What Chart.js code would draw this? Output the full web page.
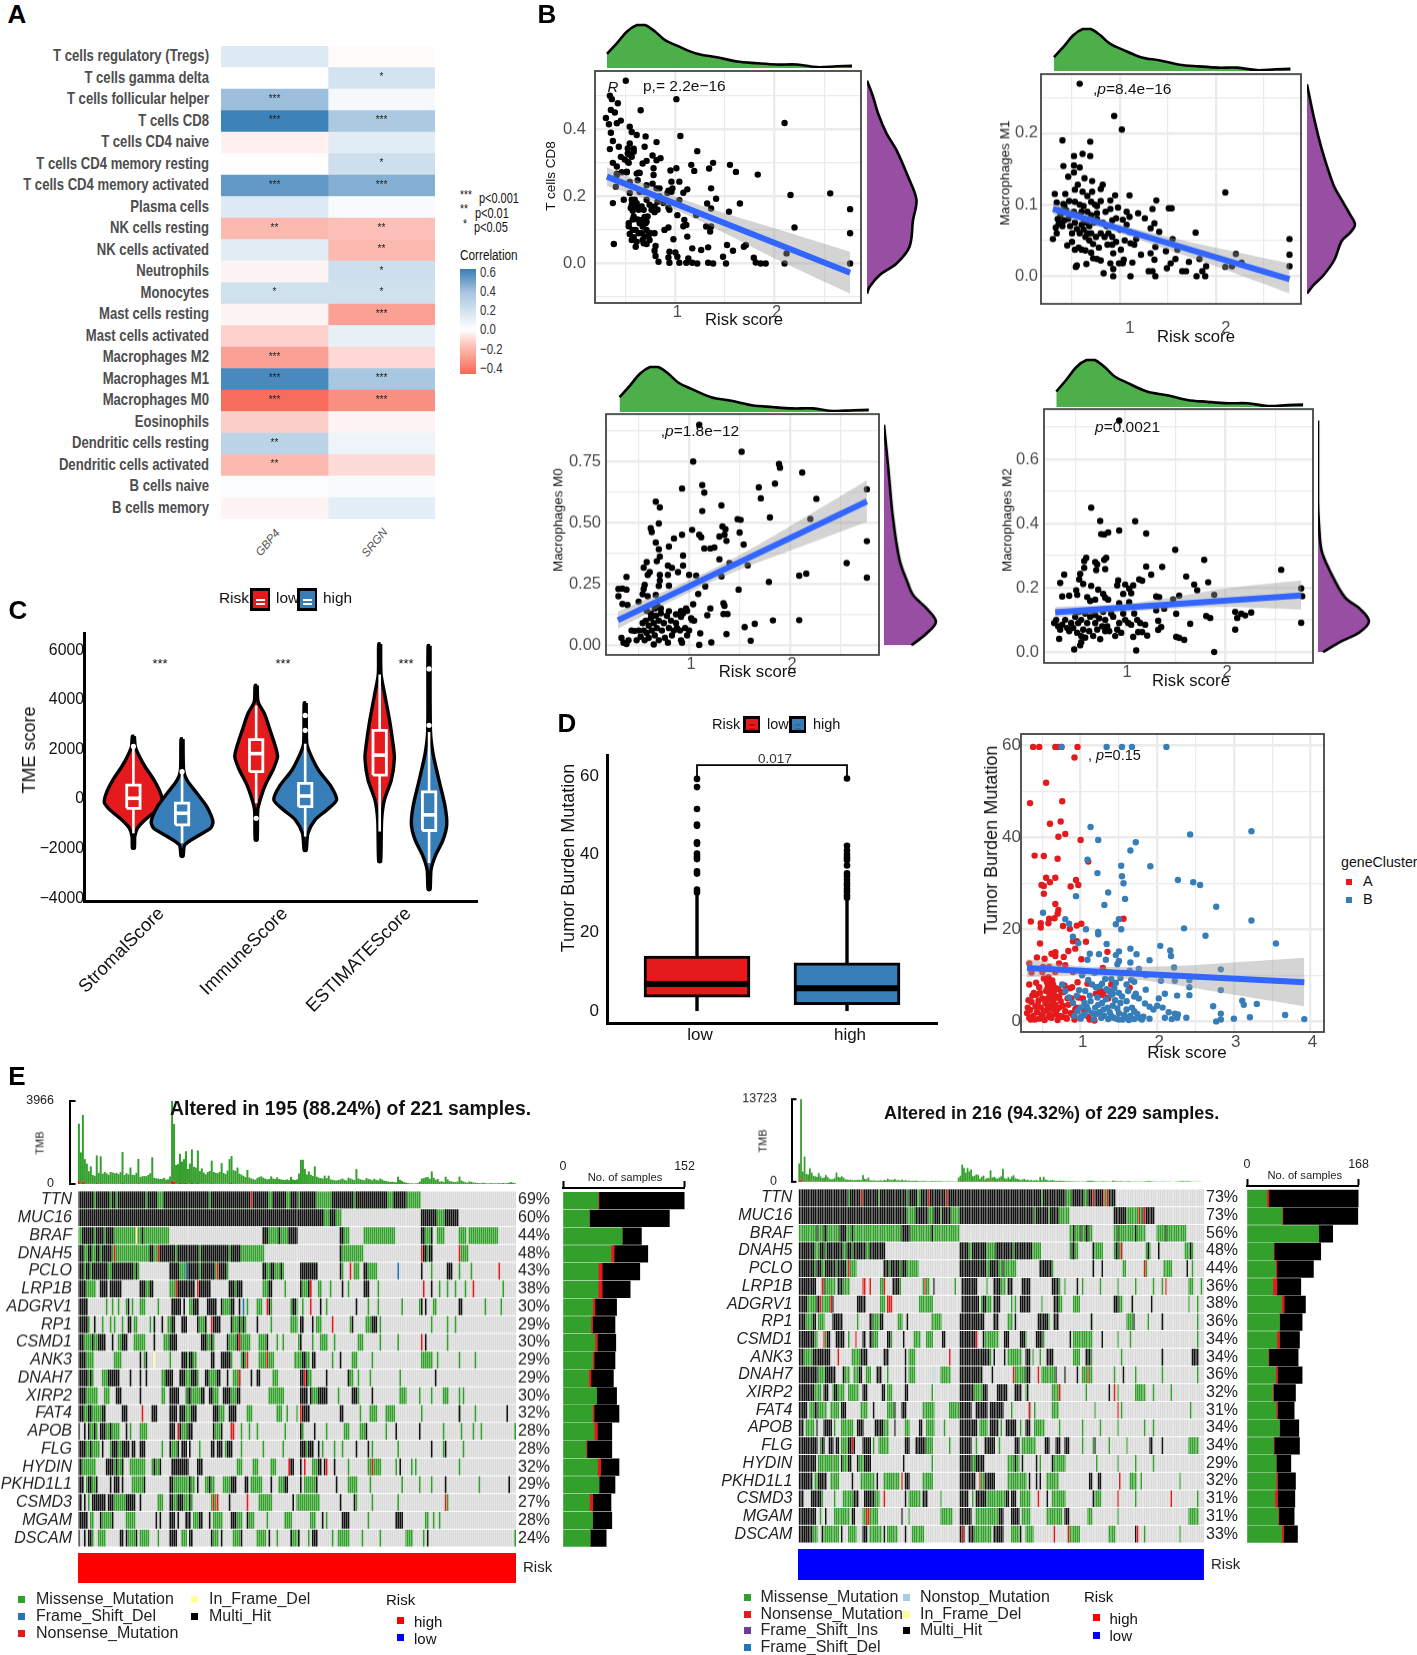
<!DOCTYPE html>
<html>
<head>
<meta charset="utf-8">
<title>Risk score panels</title>
<script src="https://cdn.jsdelivr.net/npm/chart.js@4"></script>
<style>
body{margin:0;background:#fff;width:1417px;height:1655px;position:relative;overflow:hidden;font-family:"Liberation Sans",Arial,sans-serif}
canvas{position:absolute}
.t{position:absolute;white-space:nowrap;line-height:1}
.box{position:absolute}
</style>
</head>
<body>
<script>
// panel A
const immuneCells = ['T cells regulatory (Tregs)','T cells gamma delta','T cells follicular helper','T cells CD8','T cells CD4 naive','T cells CD4 memory resting','T cells CD4 memory activated','Plasma cells','NK cells resting','NK cells activated','Neutrophils','Monocytes','Mast cells resting','Mast cells activated','Macrophages M2','Macrophages M1','Macrophages M0','Eosinophils','Dendritic cells resting','Dendritic cells activated','B cells naive','B cells memory'];
const gbp4Corr = [.1,0,.3,.58,-.04,-.005,.47,.1,-.2,.09,-.03,.14,-.03,-.13,-.27,.55,-.42,-.14,.2,-.2,.01,-.03];
const srgnCorr = [-.01,.13,.03,.25,.09,.15,.37,.02,-.18,-.2,.15,.14,-.27,.07,-.11,.26,-.32,-.03,.05,-.1,.02,.08];
const gbp4Stars = ['','','***','***','','','***','','**','','','*','','','***','***','***','','**','**','',''];
const srgnStars = ['','*','','***','','*','***','','**','**','*','*','***','','','***','***','','','','',''];

// panel B
const riskDensityX = [.31,.41,.51,.61,.69,.79,.89,1.01,1.21,1.41,1.61,1.81,2.01,2.21,2.41,2.61,2.76];
const riskDensityY = [.33,.58,.85,1,1,.85,.65,.52,.33,.25,.15,.11,.08,.08,.02,.04,.05];

const cd8Points = [[.5,.545],[.34,.5],[.36,.49],[.42,.478],[1.01,.49],[.65,.457],[.35,.458],[.39,.45],[.3,.434],[.33,.415],[.45,.426],[.41,.418],[2.1,.419],[.54,.408],[.35,.39],[.56,.392],[.61,.383],[.7,.379],[1.05,.38],[.37,.365],[.81,.362],[.69,.348],[.43,.348],[.34,.341],[.52,.343],[.58,.342],[1.22,.335],[.54,.325],[.77,.322],[.45,.318],[.85,.314],[.81,.308],[.37,.3],[.52,.303],[.71,.306],[.67,.298],[1.16,.294],[1.38,.3],[1.55,.294],[.41,.289],[1.01,.284],[.78,.284],[1.34,.283],[1.19,.276],[.95,.277],[1.61,.273],[.51,.274],[1.83,.265],[.63,.271],[.41,.264],[.78,.264],[.4,.229],[.37,.18],[.48,.19],[.54,.21],[.56,.19],[.56,.175],[.59,.19],[.61,.18],[.55,.165],[.57,.157],[.66,.17],[.71,.19],[.74,.175],[.79,.17],[.82,.184],[.84,.2],[.79,.153],[.53,.12],[.57,.131],[.62,.131],[.69,.139],[.71,.124],[.53,.111],[.57,.1],[.67,.11],[.71,.1],[.54,.088],[.58,.078],[.61,.065],[.6,.05],[.66,.09],[.69,.08],[.73,.085],[.79,.09],[.71,.058],[.38,.058],[.8,.052],[.79,.038],[.8,.022],[.83,.005],[.89,.1],[.93,.107],[.98,.072],[.94,.035],[1,.033],[.93,.018],[.94,.002],[1.02,.02],[1.04,.002],[1.13,.015],[1.11,.002],[1.17,.002],[1.22,0],[1.17,.045],[1.26,.04],[1.33,.048],[1.33,.002],[1.38,0],[1.48,.02],[1.51,0],[1.52,.055],[1.58,.038],[1.71,.055],[1.69,.05],[1.79,.017],[1.81,.003],[1.86,0],[1.91,0],[2.1,0],[2.12,.03],[2.76,0],[2.76,.09],[2.76,.162],[2.2,.107],[2.16,.204],[2.56,.209],[1.65,.179],[1.54,.154],[1.41,.193],[1.36,.224],[1.36,.164],[1.32,.179],[1.31,.11],[1.36,.11],[1.35,.095],[1.12,.08],[1.09,.13],[1.11,.115],[1.08,.111],[1.21,.144],[1.02,.144],[.94,.16],[.93,.167],[1.04,.189],[.96,.244],[1.04,.244],[.97,.224],[.92,.21],[1.08,.211],[1.12,.221],[.96,.214],[.54,.358],[.58,.333],[.52,.328],[.56,.318],[.49,.31],[.53,.3],[.46,.272],[.51,.272],[.41,.268],[.61,.268],[.64,.27],[.77,.238],[.71,.233],[.62,.248],[.64,.214],[.54,.243],[.69,.214],[.81,.224],[.84,.224],[.93,.217],[.58,.14],[.6,.1],[.64,.12],[.66,.13],[.63,.09],[.67,.07],[.7,.12],[.72,.14],[.75,.09],[.6,.17],[.63,.16],[.68,.16],[.76,.16],[.82,.16],[.88,.18],[.68,.06],[.74,.07],[.56,.07]];
const cd8Fit = [[.31,.259],[2.76,-.028]];
const cd8Upper = [[.31,.287],[1,.2],[1.5,.15],[2,.105],[2.76,.035]];
const cd8Lower = [[.31,.231],[1,.16],[1.5,.09],[2,.015],[2.76,-.09]];
const cd8DensityX = [0,.05,.25,.59,.85,.92,.99,.82,.59,.39,.22,.12,0];
const cd8DensityY = [-.09,-.07,-.035,0,.05,.129,.189,.259,.338,.388,.448,.498,.545];

const m1Points = [[.58,.269],[.94,.224],[1.02,.205],[.4,.19],[.69,.188],[.52,.168],[.61,.171],[.69,.168],[.41,.154],[.52,.155],[.58,.152],[.52,.145],[.46,.139],[.63,.137],[.71,.133],[.56,.128],[.53,.121],[.82,.128],[.8,.122],[.61,.118],[.71,.118],[.32,.115],[.43,.115],[.66,.112],[.95,.113],[1.1,.113],[2.1,.117],[1.38,.106],[.9,.106],[.8,.105],[.7,.104],[.47,.105],[.53,.104],[.34,.103],[.41,.101],[1.34,.094],[1.51,.095],[1.54,.095],[.98,.096],[.9,.094],[1.07,.09],[1.19,.088],[1.1,.083],[1.26,.081],[.96,.081],[1.03,.079],[1.36,.074],[1.07,.072],[1.32,.067],[1.41,.062],[1.79,.061],[1.55,.052],[2.77,.052],[2.77,.03],[2.77,.014],[2.21,.031],[2.27,.019],[2.1,.013],[2.17,.014],[1.9,.014],[1.86,.007],[1.8,0],[1.89,0],[1.83,.024],[1.72,.02],[1.65,.007],[1.69,.007],[1.58,.024],[1.53,.018],[1.49,.011],[1.37,0],[1.34,.007],[1.3,.007],[1.36,.023],[1.32,.032],[1.37,.041],[1.48,.035],[1.6,.037],[1.17,.052],[1.15,.044],[1.11,.046],[1.22,.03],[1.13,.019],[1.04,.023],[1.01,.037],[.93,.032],[.92,.044],[.87,.044],[.96,.048],[1.11,0],[.93,0],[.93,.01],[.9,.018],[.83,.004],[.99,.018],[1.03,.018],[.65,.017],[.55,.015],[.54,.013],[.3,.052],[.33,.068],[.34,.06],[.35,.08],[.36,.073],[.38,.085],[.4,.07],[.42,.078],[.44,.092],[.46,.08],[.48,.07],[.5,.06],[.5,.086],[.52,.09],[.53,.075],[.55,.066],[.56,.085],[.58,.06],[.6,.072],[.6,.09],[.62,.065],[.62,.08],[.64,.055],[.65,.075],[.66,.06],[.68,.07],[.68,.05],[.7,.085],[.7,.06],[.72,.045],[.73,.075],[.75,.055],[.76,.08],[.78,.04],[.8,.06],[.82,.075],[.84,.055],[.86,.07],[.45,.043],[.5,.048],[.53,.037],[.57,.04],[.6,.037],[.64,.036],[.7,.033],[.72,.025],[.76,.024],[.8,.022],[.88,.06],[.92,.078],[.92,.055],[1,.065],[1.05,.05],[1.1,.062],[.74,.1],[.76,.098],[.62,.098],[.58,.1],[.66,.09],[.85,.09],[.76,.088],[.42,.098],[.36,.092],[.38,.075]];
const m1Fit = [[.3,.094],[2.77,-.004]];
const m1Upper = [[.3,.102],[1,.072],[1.5,.055],[2,.04],[2.77,.018]];
const m1Lower = [[.3,.086],[1,.06],[1.5,.037],[2,.014],[2.77,-.024]];
const m1DensityX = [0,.14,.35,.57,.72,.9,1,.9,.72,.55,.31,.14,0];
const m1DensityY = [-.024,-.012,.002,.023,.049,.061,.072,.086,.107,.128,.177,.223,.268];

const m0Points = [[1.1,.9],[1.52,.79],[1.04,.75],[1.89,.74],[1.9,.725],[2.12,.705],[1.85,.66],[1.69,.645],[1.13,.654],[.93,.64],[2.76,.637],[1.15,.623],[1.71,.6],[2.26,.598],[.67,.586],[.71,.563],[1.32,.571],[1.13,.548],[1.8,.522],[2.2,.516],[1.48,.515],[1.51,.512],[.7,.497],[1.33,.485],[.62,.478],[1.36,.474],[1.03,.471],[.63,.462],[1.5,.46],[.93,.451],[1.1,.451],[1.12,.441],[1.3,.444],[1.35,.451],[.85,.436],[1.37,.426],[.67,.419],[2.76,.425],[1.54,.411],[.8,.403],[1.15,.395],[1.21,.395],[1.25,.399],[.7,.392],[.94,.366],[.71,.362],[1.3,.351],[.68,.343],[.58,.339],[2.56,.335],[1.4,.335],[1.58,.326],[.79,.325],[.94,.325],[.55,.317],[.83,.316],[.89,.298],[.61,.298],[.59,.287],[.71,.287],[.79,.287],[1,.287],[1.07,.284],[1.32,.281],[.38,.279],[2.09,.284],[2.16,.292],[2.76,.276],[.71,.264],[1.79,.258],[.56,.246],[.7,.242],[.8,.243],[1.16,.24],[.3,.23],[.34,.231],[.38,.227],[.55,.23],[1.49,.227],[.3,.2],[.54,.208],[.59,.2],[.67,.205],[1.09,.209],[.34,.168],[.39,.164],[.5,.178],[.69,.157],[1.04,.167],[1.34,.171],[1.35,.161],[1.21,.15],[1.34,.127],[1.38,.127],[1.18,.122],[.8,.139],[.87,.126],[.97,.15],[.92,.116],[1.03,.102],[1.83,.101],[2.09,.102],[1.65,.087],[1.55,.074],[1.37,.045],[1.11,.048],[1.61,.018],[1.22,.011],[1.1,.001],[.93,.01],[.65,.003],[.33,.03],[.35,.01],[.38,.005],[.4,.02],[.43,.06],[.46,.058],[.48,.02],[.5,.06],[.52,.035],[.54,.09],[.55,.06],[.56,.02],[.57,.1],[.58,.05],[.6,.08],[.6,.03],[.62,.11],[.63,.06],[.65,.09],[.66,.04],[.67,.12],[.68,.07],[.7,.1],[.7,.02],[.72,.13],[.73,.06],[.75,.09],[.76,.03],[.78,.12],[.79,.01],[.8,.07],[.82,.1],[.83,.04],[.85,.06],[.87,.09],[.88,.07],[.91,.06],[.92,.02],[.94,.13],[.96,.07],[.98,.04],[1,.06],[1.02,.11],[1.05,.1],[.58,.14],[.62,.13],[.66,.15],[.72,.15],[.92,.14],[.98,.14]];
const m0Fit = [[.295,.102],[2.76,.587]];
const m0Upper = [[.295,.137],[1,.265],[1.5,.368],[2,.486],[2.76,.673]];
const m0Lower = [[.295,.067],[1,.215],[1.5,.308],[2,.386],[2.76,.503]];
const m0DensityX = [.53,.82,1,.82,.56,.46,.3,.17,.08,0];
const m0DensityY = [0,.048,.096,.15,.205,.253,.348,.526,.73,.9];

const m2Points = [[.94,.72],[.66,.449],[.75,.408],[1.1,.407],[.94,.378],[1.21,.369],[.76,.367],[.79,.366],[.83,.372],[1.5,.318],[1.79,.287],[.61,.293],[.59,.283],[.81,.293],[.79,.287],[.7,.28],[.72,.273],[.59,.262],[.71,.255],[.8,.258],[1.21,.266],[1.37,.265],[2.56,.256],[.39,.241],[.55,.243],[1.26,.241],[1.61,.235],[.54,.226],[1.14,.226],[1.17,.222],[.35,.215],[.58,.212],[.93,.223],[.92,.207],[.66,.206],[1.69,.21],[1.83,.217],[1,.21],[1.08,.207],[1.04,.197],[1.72,.192],[2.76,.198],[.73,.194],[.51,.192],[.52,.178],[.98,.181],[1.06,.183],[.78,.181],[.8,.169],[.37,.173],[.44,.175],[.62,.171],[.65,.159],[.7,.163],[.83,.163],[1.89,.178],[1.54,.175],[1.48,.164],[1.31,.173],[1.34,.171],[2.77,.174],[1.04,.155],[.94,.152],[1.31,.13],[1.39,.135],[2.1,.125],[2.16,.119],[2.2,.114],[2.26,.123],[2.12,.106],[1.81,.112],[1.85,.106],[1.51,.119],[1.33,.097],[1.65,.088],[2.76,.091],[1.36,.078],[1.33,.069],[2.1,.07],[1.13,.062],[1.17,.062],[1.22,.051],[1.08,.047],[1.51,.047],[1.54,.044],[1.59,.038],[1.11,.005],[1.89,0],[.49,.008],[.55,.021],[.56,.031],[.34,.041],[.29,.09],[.31,.1],[.33,.08],[.35,.07],[.37,.085],[.4,.1],[.42,.075],[.44,.065],[.46,.09],[.48,.075],[.5,.11],[.52,.06],[.53,.09],[.54,.125],[.56,.05],[.56,.1],[.58,.07],[.6,.12],[.6,.045],[.62,.09],[.64,.065],[.65,.11],[.66,.13],[.68,.05],[.7,.09],[.7,.115],[.72,.07],[.74,.105],[.75,.04],[.77,.08],[.78,.125],[.8,.1],[.8,.065],[.82,.08],[.84,.065],[.86,.12],[.88,.11],[.9,.05],[.92,.07],[.94,.09],[.96,.06],[.98,.12],[1,.1],[1.03,.09],[1.06,.085],[1.09,.12],[1.12,.1],[1.15,.09],[1.2,.085]];
const m2Fit = [[.3,.124],[2.76,.176]];
const m2Upper = [[.3,.14],[1,.15],[1.5,.172],[2,.198],[2.76,.223]];
const m2Lower = [[.3,.108],[1,.125],[1.5,.135],[2,.14],[2.76,.132]];
const m2DensityX = [.1,.43,.82,1,.82,.53,.23,.07,.02,0,0];
const m2DensityY = [0,.031,.062,.096,.135,.17,.254,.316,.397,.47,.72];

// panel C
const tmeLabels = ['StromalScore','ImmuneScore','ESTIMATEScore'];
const tmeTicks = [-4000,-2000,0,2000,4000,6000];
const stromalLowV = [2530,2100,1700,1300,760,230,-150,-440,-840,-1180,-1510,-1980];
const stromalLowW = [.008,.016,.05,.095,.167,.22,.235,.19,.095,.032,.011,.008];
const stromalHighV = [2420,1160,760,230,-310,-910,-1180,-1510,-1850,-2310];
const stromalHighW = [.008,.013,.04,.12,.2,.25,.23,.12,.022,.008];
const immuneLowV = [4580,3910,3440,2770,2100,1700,1160,630,90,-440,-1650];
const immuneLowW = [.008,.016,.067,.113,.157,.173,.135,.08,.04,.013,.008];
const immuneHighV = [3870,2230,1830,1160,500,-40,-440,-840,-1380,-2070];
const immuneHighW = [.008,.013,.04,.108,.21,.254,.175,.08,.022,.008];
const estimateLowV = [6250,5040,4240,3170,2230,1630,760,-40,-840,-2520];
const estimateLowW = [.008,.011,.04,.08,.108,.119,.094,.038,.016,.008];
const estimateHighV = [6180,2770,1830,760,-310,-1040,-1650,-2310,-2850,-3650];
const estimateHighW = [.008,.011,.032,.08,.13,.143,.113,.049,.016,.008];
const violinCenters = [.806,1.2,1.8,2.197,2.8,3.2];
const violinQ3 = [560,-170,2395,630,2770,290];
const violinMedian = [30,-575,1830,120,1770,-640];
const violinQ1 = [-375,-1040,1100,-310,960,-1270];
const violinWhiskerHi = [2100,1160,3770,2230,5020,2700];
const violinWhiskerLo = [-1380,-1780,-170,-1510,-1310,-2580];
const violinOutliers = [[1.2,1100],[1.8,-780],[2.197,3370],[2.197,2770],[3.2,5245],[3.2,2970],[.806,2120]];

// panel D
const tmbGroups = ['low','high'];
const tmbQ1 = [3.5,1.6];
const tmbMedian = [6.9,5.8];
const tmbQ3 = [14,12.3];
const tmbWhiskerHi = [30,28.6];
const tmbLowOutliers = [59.3,57.2,51.6,47.6,47.3,43.1,42.7,40.2,39.5,38.8,35.7,35.1,31,30.3];
const tmbHighOutliers = [59.4,42.2,41,40,39.2,38.6,37.2,35.2,34.5,33.5,32.6,32,31.2,30.5,29.6,28.9];

const clusterA = [[.38,59.6],[.46,59.6],[.67,59.6],[.71,59.6],[.75,59.6],[.96,59.6],[.92,57.3],[.55,51.8],[.34,47.4],[.76,47.8],[.74,43.4],[.6,42.9],[.8,40.7],[.71,40.1],[1,39.4],[.4,36],[.52,35.9],[.7,35.3],[1.1,34.7],[.55,31.2],[.67,31.2],[.94,30.7],[.6,30.2],[.49,29.6],[.52,29.4],[.87,29.3],[.97,29.6],[.52,27.7],[.67,25.5],[.71,24.2],[.7,23.4],[.59,22.3],[.66,22.4],[.35,21.7],[.58,21.3],[.48,21.3],[.48,20.4],[.77,20.7],[.95,20.8],[1.01,21.2],[.86,20.1],[1.56,22.3],[.9,17.4],[.95,17.4],[1.07,17.3],[.47,16.9],[.93,15.8],[.84,15.3],[1.35,15.1],[.62,14.7],[.67,15],[.67,14.2],[.43,13.9],[.53,13.6],[.78,14],[1.01,13.5],[.33,12.6],[.51,11.8],[.72,12.6],[.8,12.2],[.59,11.8],[.36,10.6],[.5,10.7],[.67,10.7],[.9,10.7],[1.29,11.6],[.52,9.3],[.96,8.5],[.33,8],[.42,8.4],[1.09,8.2],[1.4,8],[1.64,7.3],[.56,8.5],[.63,8.9],[.3,1.8],[.31,3],[.33,.8],[.34,2.5],[.36,4.2],[.37,5.6],[.38,1.2],[.4,.4],[.41,3.2],[.42,5.8],[.43,2],[.45,4.5],[.46,.6],[.47,6.2],[.48,3],[.5,5],[.5,1.5],[.53,.3],[.54,4],[.55,6.6],[.56,2.4],[.57,7.4],[.58,1],[.59,5.4],[.6,3.4],[.61,6],[.62,.8],[.63,7.7],[.64,2.6],[.65,4.8],[.66,6.8],[.67,3.6],[.68,1.6],[.7,5.2],[.7,.3],[.71,7],[.72,3],[.74,4.4],[.76,1],[.78,6.4],[.8,2.2],[.82,.6],[.84,3.6],[.86,7.2],[.88,5],[.9,1.4],[.92,.4],[.95,3],[1,.8],[1.03,5],[1.1,1],[1.18,.2],[1.2,6],[1.25,6.5],[1.3,6.5],[1.33,5.2],[.32,4.6],[.35,.4],[.39,6.2],[.44,3.6],[.46,7.4],[.49,1],[.52,2.2],[.55,4.8],[.57,3.2],[.6,1.4],[.62,4.2],[.64,8],[.65,5.8],[.68,7.2],[.69,2.6],[.72,5.4],[.73,1.2],[.75,6.4],[.77,3.4],[.79,7.8],[.81,.8],[.83,5],[.87,1.8],[.89,7.4],[.93,2.6],[.97,5.2],[1.05,2.2],[1.12,.4],[1.27,5.8],[1.36,5],[.58,9.6],[.6,7.2]];
const clusterB = [[.75,59.6],[1.34,59.6],[1.54,59.6],[1.67,59.6],[2.12,59.6],[1.13,42.2],[1.23,39.4],[1.72,38.9],[1.65,37.1],[2.43,40.6],[3.23,41.3],[1.09,35.1],[1.53,33.8],[1.91,33.7],[1.22,32.2],[1.54,31.5],[1.56,30],[2.27,30.7],[2.47,30.2],[2.56,29.6],[1.36,28],[.94,27.2],[1.58,26.6],[1.31,25.3],[2.77,24.9],[.51,23.6],[.8,22.2],[.85,21.2],[1.5,22.2],[1.46,21.1],[3.23,21.9],[1.07,20],[1.53,20],[1.23,19.4],[1.23,18.9],[2.35,20.2],[2.63,18.6],[.9,18.4],[.97,17],[1.34,16.8],[2.04,16.4],[3.55,16.9],[1.65,15.8],[2.17,15.4],[1.5,15.2],[1.12,14.7],[1.24,14.6],[1.46,14.4],[1.73,14.6],[2.18,14.2],[1.09,13.4],[1.33,13.4],[1.5,13.1],[1.9,13.3],[1.65,12.8],[1.48,12.4],[1.76,11.4],[2.22,11.7],[2.83,11.3],[1.85,10],[2.05,8.8],[2.23,8.8],[2.42,9],[2.42,7.4],[1.85,6.9],[2.1,6],[2.26,5.6],[2.42,5.7],[2.83,6.8],[1.7,5.4],[1.76,5],[2.02,5],[3.11,4.5],[3.13,3.6],[3.3,3.8],[1.84,3.9],[1.9,3.2],[2,3.4],[2.07,3],[2.73,3.3],[2.15,2],[2.23,1.7],[2.27,1.5],[2.1,.8],[2.19,.5],[2.26,.8],[2.38,.8],[2.77,0],[2.83,.4],[2.83,1.7],[3,.6],[3.21,.9],[3.67,1.4],[3.92,.5],[1,.6],[1.05,1.5],[1.1,2.5],[1.13,4.4],[1.17,.5],[1.2,1.6],[1.23,3.6],[1.27,.8],[1.3,2.6],[1.33,4.8],[1.36,.5],[1.38,2],[1.42,3.4],[1.42,6],[1.47,.6],[1.5,1.8],[1.52,4],[1.55,.4],[1.6,2.6],[1.63,.3],[1.65,1.2],[1.7,.5],[1.74,1.6],[1.78,.7],[1.8,.4],[1,3],[.9,4],[.95,5.6],[.85,5.2],[.8,6.6],[.76,8],[1.05,4],[1.25,7.6],[1.32,9.2],[1.4,5.8],[1.44,7.2],[1.5,6.2],[1.6,8],[1.66,9],[1.02,10],[1.1,9],[1.18,10.5],[1.28,8.2],[1.4,9.2],[1.56,10.5],[1.64,11],[1.02,1.2],[1.08,3.2],[1.12,5.6],[1.15,1.8],[1.19,3],[1.22,5.2],[1.25,2],[1.28,4],[1.31,1.2],[1.35,3],[1.37,6.6],[1.4,1.2],[1.43,.8],[1.45,4.6],[1.48,2.8],[1.5,.4],[1.54,5.4],[1.57,1.4],[1.6,4.4],[1.62,.8],[1.67,3],[1.7,2.2],[1.72,6],[1.76,.9],[1.82,1],[.92,1.2],[.96,2.2],[.98,6.8],[1.06,6.6],[1.15,8],[1.2,7.4],[1.34,7],[1.46,8.4],[1.52,9.4],[1.62,6.6],[1.7,8.6],[1.9,.6],[1.95,2.6]];
const tmbFit = [[.3,11.6],[3.92,8.5]];
const tmbUpper = [[.3,13.5],[1,12],[2,11.9],[3,12.8],[3.92,13.8]];
const tmbLower = [[.3,9.6],[1,10],[2,8.5],[3,5.8],[3.92,3.3]];

// panel E
const genes = ['TTN','MUC16','BRAF','DNAH5','PCLO','LRP1B','ADGRV1','RP1','CSMD1','ANK3','DNAH7','XIRP2','FAT4','APOB','FLG','HYDIN','PKHD1L1','CSMD3','MGAM','DSCAM'];
const leftPct = ['69%','60%','44%','48%','43%','38%','30%','29%','30%','29%','29%','30%','32%','28%','28%','32%','29%','27%','28%','24%'];
const rightPct = ['73%','73%','56%','48%','44%','36%','38%','36%','34%','34%','36%','32%','31%','34%','34%','29%','32%','31%','31%','33%'];
const leftTmb = [2740,1480,3180,1150,950,600,820,420,380,1316,520,1285,480,560,500,430,560,540,500,520,460,550,1475,420,500,450,760,430,420,520,1158,330,360,370,360,420,500,1237,280,260,250,230,240,285,200,220,350,3800,2740,880,920,1395,1050,1150,1506,700,950,1600,800,760,1554,600,720,530,450,560,600,1078,560,520,500,560,967,520,460,620,1150,1285,640,600,760,480,430,380,320,650,300,260,230,200,280,330,365,300,260,220,240,365,260,240,320,240,220,200,190,220,180,340,220,190,220,500,1158,1158,720,450,600,440,380,840,350,300,280,260,400,280,400,220,200,180,170,190,220,260,200,170,300,260,220,190,713,260,220,200,180,280,240,220,180,250,200,170,260,210,160,140,120,100,110,90,80,350,200,150,80,60,40,30,30,20,30,40,120,260,280,320,333,250,600,300,200,240,120,130,100,350,220,150,120,100,90,120,351,160,120,80,60,120,100,70,60,50,40,40,60,40,30,30,40,30,30,30,40,30,50,30,40,60,90,60,30];
const leftTmbTip = [140,30,120,40,20,10,20,10,10,50,15,40,10,15,10,10,15,10,10,15,10,15,50,10,15,10,30,10,10,15,40,10,10,10,10,10,15,40,10,10,10,5,5,10,5,5,10,166,130,30,30,50,30,40,60,20,30,50,25,25,50,20,25,15,15,15,20,40,15,15,15,15,30,15,15,20,40,50,20,20,25,15,15,10,10,20,10];
const rightTmb = [2880,13300,1660,4040,1300,1200,2200,1500,1000,900,800,1400,900,600,700,1100,800,500,400,450,600,1500,800,700,900,700,400,350,300,350,300,250,280,300,350,280,1100,500,400,700,250,200,250,200,180,220,250,200,300,250,500,300,350,300,450,250,300,200,350,180,300,150,200,150,180,160,200,120,100,130,120,100,90,80,100,110,90,120,100,120,90,80,70,60,70,60,50,60,50,40,700,1000,2700,2200,1500,2200,1700,2000,900,1000,1200,1100,500,800,1000,400,600,600,1850,700,800,600,500,700,900,2100,600,500,800,500,900,1100,600,500,400,300,400,500,300,350,250,300,200,250,300,200,800,300,850,400,300,200,250,300,200,180,150,200,180,150,120,100,120,100,90,80,70,60,70,60,60,50,80,150,180,200,150,100,80,60,60,100,80,60,70,50,60,200,120,100,80,90,120,70,60,80,100,60,50,40,50,60,40,50,60,80,100,120,110,80,60,50,40,30,40,60,50,40,30,40,30,20,30,40,60,100,120,100,80,110,90,60,40,30,30,20,30,20,20];
const rightTmbTip = [180,420,60,150,40,40,70,50,30,30,25,50,30,20,20,40,25,15,15,15,20,50,25,20,30,20,15,10,10,10,10,10,10,10,10,10,40,15,10,25,10,5,10,5,5,5,10,5,10,10,15,10,10,10,15,10,10,5,10,5,10,5,5,5,5,5,5,5,5,5,5,5,5,5,5,5,5,5,5,5,5,5,5,5,5,5,5,5,5,5,25,40,160,100,50,100,60,70,30,35,40,40,20,30,35,15,25,20,70,25,30,20,20,25,30,90];
const leftMissenseBar = [44,33,74,60,44,44,37,35,40,37,32,42,37,39,29,43,45,33,37,34];
const leftOtherBar = [1,0,0,4,5,5,3,2,3,2,3,0,2,4,1,4,0,4,0,0];
const leftMultiBar = [107,100,24,42,47,35,27,28,23,26,28,25,31,18,31,23,20,23,24,20];
const rightMissenseBar = [30,53,108,40,43,39,52,49,45,32,43,39,44,49,40,44,44,42,47,52];
const rightOtherBar = [3,1,0,1,2,6,4,0,4,1,3,1,2,0,1,0,2,4,1,3];
const rightMultiBar = [135,113,21,70,55,36,32,34,30,44,37,33,25,29,38,22,27,26,23,21];

const leftMulti = ['0-7 9-15 17-18 20-33 35-39 43-65 67-72 73-86 88-95 98-104 107-110 112-119 128-138 140-155 159-165','0-123 127-129 173-180 185-191','2-7 9-12 14-17 29 32 93-95 101 106-110 132-133 173-174 178','0-2 5-6 9-10 12-16 36-37 41-48 50-60 62-75 77-81 132 174-175 177-178','0-2 4-5 7-14 17-27 29 46-50 55-60 62-68 71-74 93-94 97-98 102 112-120 132 144-145 173 186-188','0-3 11-14 16-21 31-33 36-37 50-58 61-66 76-78 80-82 96-97 112 116-117 133 144-146 178','0-4 25 47-51 53 58-60 65-69 72 77-78 81 96 108-109 122 140 173 175 192-193','0-4 8 25-26 38 42 47-48 52-54 60 64 68-71 77 81 83 90 112-113 118 138 148-150','0-2 7 10-13 17 22-24 38 46-49 62-64 67 75 80-81 95 112 175','0-3 31 34 52-54 56-57 67-68 72-76 83 113-114 118-119 132','0-4 6 15-20 26 31 34 44-47 51-53 57-59 64-65 70-71 75 81 87 90-91 112-115 125 136 180','0-3 19-21 31 46-50 55-56 62-63 66-67 73-76 80-81 112-115 117 121-125 138-140 148','0-2 5-6 12-13 22-24 37-39 46-49 51-53 57-59 68-70 76-79 112-116 132-133 192 216','0 3 5 8 11-13 16 24 46-48 51 55-57 68 72 77 112 119 145 160 172','0-3 6 12 17-19 22-25 27-28 31-33 46 50 52-54 56 67-68 70-72 75-77 112-114 116-118 121 140 146 178 185','0-1 14-17 19 22 38 41 47-55 60-62 106-108 112 121-122 124 129 162','0-2 5-6 9 16 18-20 22 33 46-47 56 60 66 77-79 84-85 97 104-105 112 120 130 185 217','0-1 3 7-13 15-17 24-28 31 46-47 50-52 56 76 108 132 139','0-4 11 17 39 41 46-48 50 54-56 61-62 66 77-79 85 123 133-136 160-163','0 3 5-6 21-22 24 29 46-49 56-57 67 72 82 96 107 111 118-120 176'];
const leftMissense = ['0-172','0-132 173-191','0-45 93-109 132-136 144-159 173-178 181-184 192-195 197-211','0-93 132-143 174-178 193-196','0-30 46-75 93-103 112-120 133 139-141 144-150 178 192 198','0-8 11 16 31-37 46-58 61-66 76-82 93-97 104 112-117 121-122 127 136 151 182 186 190 195 214','1-3 14 17 20 24 27 31-33 40 47-50 56-60 66-69 73-77 85 90-92 97 107-110 113 125 146 151 163 172 179-180 192 205 213','2-5 12 16 18 22 28-29 36 45-48 61-64 77-84 97 107-110 120-122 137 145-147 152 178 186 190','3-9 20-23 28-33 43-45 64-68 76-86 91-94 100 103 111 118 122-125 129 141-143 152 161 186','4-7 18-21 33 46 55-59 74-77 82-84 91-98 109-116 128 138-140 148 173-178 181 192 200','5-7 12-19 42-46 53-60 66-70 78-81 98-100 114-117 136-138 141 147 162','4-9 13-15 42-43 47 54-61 67-70 77-79 96-103 117-124 131 141 162-165 172 178 184-186 192 194','3-11 46 54-56 71-73 85-87 100-102 105 110 142 147-150 155-159 173 192 200','6-9 14-20 26 31-34 47 52-54 69-71 82 86 90 104 113 125 134-136 142-144 155 184 193 199 203 220','4-10 16-21 42 47-49 61 74 82 93 103 115 123 129 133 148 161 184 194','2-8 18-22 26-33 37-40 80-82 88-90 97-99 118-120 136 146-152 160 168 170 192','4-8 27-32 48-58 64-68 73-76 87-92 101-103 114-119 136-140 147 163 172 178 202','5 18-23 40-42 48-49 53-57 67-69 91-97 110-121 140 148 161 186','6-7 12-16 24-28 46 58-60 68-72 80-82 86-88 95 104-107 117-119 125 146 175-176 179 182','7 10-13 25-28 31-35 40 52-54 68-70 78-81 90-94 100 108-110 116 128 131-136 143 152 165-168 174 220'];
const leftNonsense = ['87','','','18 40 173 192','70 137 212','49 60 117 174 199','95 117','67 128','81 173','85 95','81 114','','32 112','50 77-78','','106 114 125 148','','68 70 85 185','',''];
const leftFrameShift = ['','','','','54 161','','83','','','','','','','','','','','','',''];
const leftInFrame = ['','','29','','','','','','','38','','','','','','','','','',''];

const rightMulti = ['0-27 29-34 36-44 46-60 62-66 69-72 74-82 84-90 91-136 138-150 154-160 163-165 167-171 175-178','0-60 66-72 76-79 81-85 91-132 134-140 142-146 178-184 194 196-200','10 14-15 23-26 30 58-62 75 155 159 162-163 180 190 207','0-8 12-14 16-24 27-29 31-37 40-48 91-95 98-105 111-120 122-131 154-155 166 179-180 197 203 221','0-8 10-12 15-20 22-26 48-50 52-56 58-60 91-105 108-112 115 136-142 166 171 219','0-9 14 22-24 53-56 76 92-100 110-113 118-120 126-130 143-146 157','0-4 10-11 18-19 33-37 50 92-101 104-105 110-113 125-130 144-146 178-180 188 199','0-3 8-9 19-24 40-41 46-47 61 91-104 110-112 122 135-140 144-146 165 189 205','0-8 16-17 21-25 36-37 40-41 50-51 59 81-82 91-100 104 116-118 125-127 134-137 153 171','0-2 8-17 35-38 48-50 60 91-107 110 116 128-130 140-143 162-164 205 222-225','0-10 15-20 25 34-35 44-46 60 91-103 109 128-130 145 150 157 183','0-8 14-16 20-21 36-38 47-48 60-61 91-98 104-106 112-117 122-125 129 175','0-4 9-10 24-26 42 54 58-60 91-97 100-106 108-115 130','0-2 10 14-18 33-36 43-47 54 68-69 91-100 108-112 117-122 128-130','0-10 13-14 17-19 21-22 28-31 36-40 60-62 66-71 91-97 105-110 122-124 139-141 145-147 150-152 167 198-199 205','0-9 24 28-29 33 37-40 59 91-97 100-104 122 126 134 143','0-7 11-15 30 44 58 60-62 91-99 105-110 130 134 136 164-165 169-170','0-2 7-12 31-33 37-42 60 70-72 91-95 100-105 117-118 120-122 140 166','0-9 15 30-31 58 91-97 113-115 120-124 150-152','0-7 13 24 36-38 48 60 91-93 96-98 110-115 125 190'];
const rightMissense = ['0-178','0-152 178-200','0-90 153-165 178-195 202-218','0-48 91-136 153-157 166-171 178-182 196-198 203 218-222','0-32 48-67 91-122 136-143 166 183-184 195-196 206-210 222','4-8 15-20 25-28 46-48 57 70-73 88 95-99 106 112-116 128 147 150 160 170 180 190 200 205 220-222 227','5-9 13-17 46-48 68-75 103-108 120 122 137 146-148 155-158 178-182 188 220 225','4-7 11-14 33 42-45 56-58 75-80 94-96 118-120 136 141 165 185-188 197 205 225','9-10 14-15 28 42-44 52 65-68 72-75 105-112 128 135 138 155-165 180 187 225','3-7 30-34 62-65 108 118-125 132 136 155-158 165 182 205','11-14 25-28 31-33 38-40 50 62-65 80-85 122-127 137-144 160-165 178 190 205 225','9-12 19-25 28-33 50-52 75 99-103 122 128 143-147 162 180 190-195 200 210','6-8 11-15 18-22 35-38 50-53 70-76 85-90 120 133 143-146 167 182 221','4-8 20 24-30 48-50 60-62 72-76 82 102-106 114 125 133-138 147 160 170 180 195 200','12 24-27 42 45-50 72-75 85 100 113 126-133 160 166 175 185 220-225','11-22 25-27 34-36 75 98-103 118-124 136 143-150 168 180 190 200','9-11 18-22 35-42 48-56 70-75 102-104 118-128 140-146 187-190 193 215','13 20 25-30 43-45 62-68 80 98 106-116 125-130 143-150 167-170 180 190 225','12 20-28 36-44 62 80-86 100-112 126-130 140-148 163-165 180 220-225','8-10 14-22 28-32 40-46 50-55 64-70 99-108 120-124 128-132 152-158 175-178 195 215'];
const rightNonsense = ['35 73 83 166 172 174','192 195','','182','28 195','13 36-37 40 48 71 207','12 18 50-52','','14 32 100','22 85','121 135 163','147 178','130 180','','30','','58 102 181','48 135 180 210','38-39','92 144 152 191'];
const rightNonstop = ['','','','','','','','','','','76','','','','','','','','',''];

// helpers
Chart.defaults.font.family = '"Liberation Sans", Arial, sans-serif';
Chart.defaults.animation = false;
Chart.defaults.plugins.legend.display = false;
Chart.defaults.plugins.tooltip.enabled = false;

const framePlugin = {
  id: 'frame',
  afterDatasetsDraw(chart, args, opts) {
    if (!opts.color) return;
    const a = chart.chartArea, c = chart.ctx;
    c.save(); c.strokeStyle = opts.color; c.lineWidth = opts.width || 2;
    c.strokeRect(a.left, a.top, a.width, a.height); c.restore();
  }
};
Chart.register(framePlugin);

// margins are split between axes and layout padding so that the plot area lands on rect
function addChart(rect, margin, config) {
  const o = config.options = config.options || {};
  const scales = o.scales || {};
  const m = Object.assign({}, margin);
  // y axes always ask for half a label plus padding above and below the plot
  if (Object.keys(scales).some(id => id[0] === 'y' && scales[id].display !== false)) {
    m.t = Math.max(m.t, 24); m.b = Math.max(m.b, 24);
  }
  const canvas = document.createElement('canvas');
  const w = rect.w + m.l + m.r, h = rect.h + m.t + m.b;
  canvas.width = w; canvas.height = h;
  canvas.style.left = (rect.x - m.l) + 'px';
  canvas.style.top = (rect.y - m.t) + 'px';
  canvas.style.width = w + 'px'; canvas.style.height = h + 'px';
  document.body.appendChild(canvas);
  o.responsive = false; o.maintainAspectRatio = false; o.devicePixelRatio = 1;
  const pad = {left: m.l, top: m.t, right: m.r, bottom: m.b};
  for (const id in scales) {
    const s = scales[id];
    if (s.display === false) continue;
    const pos = s.position || (id[0] === 'x' ? 'bottom' : 'left');
    const size = m[pos[0]];
    pad[pos] = 0;
    s.afterFit = sc => { if (sc.isHorizontal()) sc.height = size; else sc.width = size; };
  }
  o.layout = {padding: pad};
  return new Chart(canvas, config);
}

function txt(str, x, y, st) {
  st = st || {};
  const d = document.createElement('div');
  d.className = 't';
  // a leading p in the stat labels is set in italics
  if (st.italicP) d.innerHTML = str.replace('p', '<i>p</i>'); else d.textContent = str;
  d.style.left = x + 'px'; d.style.top = y + 'px';
  d.style.fontSize = (st.size || 14) + 'px';
  if (st.weight) d.style.fontWeight = st.weight;
  if (st.italic) d.style.fontStyle = 'italic';
  d.style.color = st.color || '#111';
  const tx = st.align === 'left' ? '0' : st.align === 'right' ? '-100%' : '-50%';
  let tr = 'translate(' + tx + ',-50%)';
  if (st.rotate) tr += ' rotate(' + st.rotate + 'deg)';
  if (st.sx) {
    tr += ' scaleX(' + st.sx + ')';
    d.style.transformOrigin = (st.align || 'center') + ' center';
  }
  d.style.transform = tr;
  document.body.appendChild(d);
}
function swatch(x, y, size, color) {
  const d = document.createElement('div');
  d.className = 'box';
  d.style.cssText += 'left:' + (x - size / 2) + 'px;top:' + (y - size / 2) + 'px;width:' + size + 'px;height:' + size + 'px;background:' + color;
  document.body.appendChild(d);
}
function legendKey(x, y, w, h, color, line) {
  const d = document.createElement('div');
  d.className = 'box';
  d.style.cssText += 'left:' + x + 'px;top:' + y + 'px;width:' + w + 'px;height:' + h + 'px;background:#000';
  const i = document.createElement('div');
  i.className = 'box';
  i.style.cssText += 'left:2.5px;right:2.5px;top:3px;bottom:3px;background:' + color;
  const b = document.createElement('div');
  b.className = 'box';
  b.style.cssText += 'left:3px;right:3px;top:' + (h / 2 - 4) + 'px;height:' + 2 + 'px;background:' + line;
  const b2 = b.cloneNode();
  b2.style.top = (h / 2 - 0) + 'px';
  i.appendChild(b); i.appendChild(b2); d.appendChild(i);
  document.body.appendChild(d);
}
const listTicks = list => sc => { sc.ticks = list.map(value => ({value})); };
const pts = a => a.map(p => ({x: p[0], y: p[1]}));
const zip = (xs, ys) => xs.map((x, i) => ({x, y: ys[i]}));

function scatterPanel(p) {
  const isMajorX = v => p.xLabels.includes(v), isMajorY = v => p.yLabels.includes(v);
  const tickColor = '#4d4d4d';
  const datasets = p.series.map((s, i) => ({data: pts(s.points), backgroundColor: s.color, borderWidth: 0, pointRadius: p.radius || 3.2, order: 10 + i * -1}));
  datasets.push(
    {data: pts(p.upper), showLine: true, borderWidth: 0, pointRadius: 0, tension: .3, fill: '+1', backgroundColor: 'rgba(153,153,153,.42)', order: 3},
    {data: pts(p.lower), showLine: true, borderWidth: 0, pointRadius: 0, tension: .3, order: 3},
    {data: pts(p.fit), showLine: true, borderColor: '#3366ff', borderWidth: 6, pointRadius: 0, order: 1}
  );
  return addChart(p.rect, p.margin, {
    type: 'scatter',
    data: {datasets},
    options: {
      plugins: {frame: {color: '#444', width: 1.8}},
      scales: {
        x: {type: 'linear', min: p.xMin, max: p.xMax, border: {display: false},
          afterBuildTicks: listTicks(p.xTicks),
          grid: {color: '#ebebeb', drawTicks: false, lineWidth: c => isMajorX(c.tick.value) ? 2.4 : 1.2},
          ticks: {autoSkip: false, maxRotation: 0, padding: p.xPad, labelOffset: p.xOffset, color: tickColor, font: {size: p.tickSize || 16.5},
            callback: v => isMajorX(v) ? String(v) : ''}},
        y: {type: 'linear', min: p.yMin, max: p.yMax, border: {display: false},
          afterBuildTicks: listTicks(p.yTicks),
          grid: {color: '#ebebeb', drawTicks: false, lineWidth: c => isMajorY(c.tick.value) ? 2.4 : 1.2},
          ticks: {autoSkip: false, padding: p.yPad, color: tickColor, font: {size: p.tickSize || 16.5},
            callback: v => isMajorY(v) ? v.toFixed(p.yDigits) : ''}}
      }
    }
  });
}
function topDensity(rect, xMin, xMax) {
  addChart(rect, {l: 0, t: 4, r: 0, b: 0}, {
    type: 'line',
    data: {datasets: [{data: zip(riskDensityX, riskDensityY), borderColor: '#000', borderWidth: 2.6, backgroundColor: '#4daf4a', fill: 'origin', pointRadius: 0, tension: .35, clip: false}]},
    options: {scales: {x: {type: 'linear', min: xMin, max: xMax, display: false}, y: {min: 0, max: 1, display: false}}}
  });
}
function rightDensity(rect, xs, ys, yMin, yMax) {
  addChart(rect, {l: 0, t: 0, r: 4, b: 0}, {
    type: 'line',
    data: {datasets: [{data: zip(xs, ys), borderColor: '#000', borderWidth: 2.6, backgroundColor: '#984ea3', fill: 'origin', pointRadius: 0, tension: .35, clip: false}]},
    options: {indexAxis: 'y', scales: {x: {type: 'linear', min: 0, max: 1, display: false}, y: {type: 'linear', offset: false, min: yMin, max: yMax, display: false}}}
  });
}

// panel A heatmap
function corrColor(v) {
  const end = v >= 0 ? [55, 126, 184] : [247, 104, 86];
  const f = Math.min(Math.abs(v) / (v >= 0 ? .6 : .43), 1);
  return 'rgb(' + end.map(e => Math.round(255 + (e - 255) * f)).join(',') + ')';
}
const heatStars = {
  id: 'heatStars',
  afterDatasetsDraw(chart) {
    const c = chart.ctx, sx = chart.scales.x, sy = chart.scales.y;
    c.save(); c.fillStyle = '#222'; c.font = '10px "Liberation Sans"'; c.textAlign = 'center'; c.textBaseline = 'middle';
    immuneCells.forEach((n, i) => {
      c.fillText(gbp4Stars[i], sx.getPixelForValue(.5), sy.getPixelForValue(i) - 1);
      c.fillText(srgnStars[i], sx.getPixelForValue(1.5), sy.getPixelForValue(i) - 1);
    });
    c.restore();
  }
};
const heatRect = {x: 221, y: 45.7, w: 214, h: 473.6};
const heatChart = addChart(heatRect, {l: 0, t: 0, r: 0, b: 0}, {
  type: 'bar',
  data: {labels: immuneCells, datasets: [
    {data: immuneCells.map(() => [0, 1]), backgroundColor: gbp4Corr.map(corrColor)},
    {data: immuneCells.map(() => [1, 2]), backgroundColor: srgnCorr.map(corrColor)}
  ]},
  options: {
    indexAxis: 'y', grouped: false, barPercentage: 1, categoryPercentage: 1,
    scales: {x: {min: 0, max: 2, display: false}, y: {display: false}}
  },
  plugins: [heatStars]
});
// the picture has condensed row labels, so they are squeezed text placed from the scale
immuneCells.forEach((name, i) => txt(name, 209, heatRect.y + heatChart.scales.y.getPixelForValue(i), {size: 16.6, weight: 'bold', sx: .79, align: 'right', color: '#4d4d4d'}));
txt('GBP4', 268, 543, {size: 11.5, italic: true, rotate: -50, color: '#555'});
txt('SRGN', 375, 543, {size: 11.5, italic: true, rotate: -50, color: '#555'});
txt('***', 460, 195, {size: 12, align: 'left', sx: .85});
txt('p<0.001', 479, 197, {size: 15, align: 'left', sx: .73});
txt('**', 460, 209, {size: 12, align: 'left', sx: .85});
txt('p<0.01', 474.5, 212, {size: 15, align: 'left', sx: .73});
txt('*', 463, 224, {size: 12, align: 'left', sx: .85});
txt('p<0.05', 473.5, 226, {size: 15, align: 'left', sx: .73});
txt('Correlation', 460, 255, {size: 15.5, align: 'left', sx: .76});
const bar = document.createElement('div');
bar.className = 'box';
bar.style.cssText += 'left:460px;top:268.6px;width:15.6px;height:105.4px;background:linear-gradient(#377eb8 0%,#a8c4e0 22%,#fff 58%,#fdc6bb 72%,#f76856 100%)';
document.body.appendChild(bar);
[['0.6', 271], ['0.4', 290], ['0.2', 309], ['0.0', 328], ['−0.2', 348], ['−0.4', 367]].forEach(a => txt(a[0], 480, a[1], {size: 15, align: 'left', sx: .76, color: '#333'}));

// panel B
scatterPanel({rect: {x: 595, y: 71, w: 268, h: 232}, margin: {l: 50, t: 0, r: 2, b: 20}, xMin: .19, xMax: 2.87, yMin: -.118, yMax: .574,
  xTicks: [.5, 1, 1.5, 2, 2.5], xLabels: [1, 2], yTicks: [-.1, 0, .1, .2, .3, .4, .5], yLabels: [0, .2, .4], yDigits: 1, xPad: 0, xOffset: 2, yPad: 9,
  series: [{points: cd8Points, color: '#000'}], fit: cd8Fit, upper: cd8Upper, lower: cd8Lower});
topDensity({x: 595, y: 25, w: 268, h: 43.3}, .19, 2.87);
rightDensity({x: 867, y: 71, w: 50, h: 232}, cd8DensityX, cd8DensityY, -.118, .574);
txt('T cells CD8', 551, 176, {size: 13.5, rotate: -90});
txt('Risk score', 744, 320, {size: 16.7});
txt('R', 613, 86, {size: 15, italic: true});
txt('p,= 2.2e−16', 643, 86, {size: 15.5, align: 'left'});

scatterPanel({rect: {x: 1041, y: 74.3, w: 262.3, h: 229.7}, margin: {l: 40, t: 0, r: 2, b: 40}, xMin: .176, xMax: 2.89, yMin: -.0387, yMax: .2825,
  xTicks: [.5, 1, 1.5, 2, 2.5], xLabels: [1, 2], yTicks: [.05, 0, .1, .15, .2, .25], yLabels: [0, .1, .2], yDigits: 1, xPad: 15, xOffset: 10, yPad: 3,
  series: [{points: m1Points, color: '#000'}], fit: m1Fit, upper: m1Upper, lower: m1Lower});
topDensity({x: 1041, y: 29, w: 262.3, h: 42}, .176, 2.89);
rightDensity({x: 1306.7, y: 74.3, w: 48.3, h: 229.7}, m1DensityX, m1DensityY, -.0387, .2825);
txt('Macrophages M1', 1005, 173, {size: 13.6, rotate: -90});
txt('Risk score', 1196, 337, {size: 16.7});
txt(',p=8.4e−16', 1093, 89, {size: 15.5, align: 'left', italicP: true});

scatterPanel({rect: {x: 606.3, y: 414.3, w: 275, h: 240.4}, margin: {l: 50, t: 0, r: 2, b: 20}, xMin: .177, xMax: 2.88, yMin: -.04, yMax: .944,
  xTicks: [.5, 1, 1.5, 2, 2.5], xLabels: [1, 2], yTicks: [0, .125, .25, .375, .5, .625, .75, .875], yLabels: [0, .25, .5, .75], yDigits: 2, xPad: 0, xOffset: 2, yPad: 5,
  series: [{points: m0Points, color: '#000'}], fit: m0Fit, upper: m0Upper, lower: m0Lower});
topDensity({x: 606.3, y: 367, w: 275, h: 45}, .177, 2.88);
rightDensity({x: 884.3, y: 414.3, w: 51.7, h: 240.4}, m0DensityX, m0DensityY, -.04, .944);
txt('Macrophages M0', 558, 520, {size: 13.4, rotate: -90});
txt('Risk score', 757.7, 671.7, {size: 16.7});
txt(',p=1.8e−12', 660.7, 431, {size: 15.5, align: 'left', italicP: true});

scatterPanel({rect: {x: 1043.7, y: 409.3, w: 271.6, h: 253.4}, margin: {l: 40, t: 0, r: 2, b: 20}, xMin: .188, xMax: 2.878, yMin: -.034, yMax: .756,
  xTicks: [.5, 1, 1.5, 2, 2.5], xLabels: [1, 2], yTicks: [0, .1, .2, .3, .4, .5, .6, .7], yLabels: [0, .2, .4, .6], yDigits: 1, xPad: 0, xOffset: 2, yPad: 5,
  series: [{points: m2Points, color: '#000'}], fit: m2Fit, upper: m2Upper, lower: m2Lower});
topDensity({x: 1043.7, y: 359.7, w: 271.6, h: 47}, .188, 2.878);
rightDensity({x: 1318.3, y: 409.3, w: 50.7, h: 253.4}, m2DensityX, m2DensityY, -.034, .756);
txt('Macrophages M2', 1007, 520, {size: 13.4, rotate: -90});
txt('Risk score', 1191, 680.7, {size: 16.7});
txt('p=0.0021', 1095, 426.7, {size: 15.5, align: 'left', italicP: true});

// panel C
function violinShape(center, values, widths) {
  const right = values.map((v, i) => ({x: center + widths[i], y: v}));
  const left = values.map((v, i) => ({x: center - widths[i], y: v})).reverse();
  return [...right, ...left, right[0]];
}
const violinV = [stromalLowV, stromalHighV, immuneLowV, immuneHighV, estimateLowV, estimateHighV];
const violinW = [stromalLowW, stromalHighW, immuneLowW, immuneHighW, estimateLowW, estimateHighW];
const violinSets = [];
violinCenters.forEach((c, i) => {
  const col = i % 2 ? '#377eb8' : '#e41a1c';
  const hw = .054;
  violinSets.push({data: violinShape(c, violinV[i], violinW[i]), showLine: true, fill: 'shape', backgroundColor: col, borderColor: '#000', borderWidth: 3.4, pointRadius: 0, tension: .25});
  violinSets.push({data: [{x: c, y: violinWhiskerLo[i]}, {x: c, y: violinQ1[i]}], showLine: true, borderColor: '#fff', borderWidth: 2.6, pointRadius: 0});
  violinSets.push({data: [{x: c, y: violinQ3[i]}, {x: c, y: violinWhiskerHi[i]}], showLine: true, borderColor: '#fff', borderWidth: 2.6, pointRadius: 0});
  violinSets.push({data: [{x: c - hw, y: violinQ1[i]}, {x: c + hw, y: violinQ1[i]}, {x: c + hw, y: violinQ3[i]}, {x: c - hw, y: violinQ3[i]}, {x: c - hw, y: violinQ1[i]}], showLine: true, borderColor: '#fff', borderWidth: 2.8, pointRadius: 0});
  violinSets.push({data: [{x: c - hw, y: violinMedian[i]}, {x: c + hw, y: violinMedian[i]}], showLine: true, borderColor: '#fff', borderWidth: 3.6, pointRadius: 0});
});
violinSets.push({data: pts(violinOutliers), backgroundColor: '#fff', pointRadius: 2.6, borderWidth: 0});
violinSets.forEach((d, i) => { d.order = 100 - i; });
addChart({x: 84, y: 633, w: 393, h: 268}, {l: 84, t: 0, r: 4, b: 150}, {
  type: 'scatter',
  data: {datasets: violinSets},
  options: {
    scales: {
      x: {type: 'linear', min: .406, max: 3.588, border: {color: '#000', width: 3}, grid: {display: false, drawTicks: false},
        afterBuildTicks: listTicks([1, 2, 3]),
        ticks: {autoSkip: false, minRotation: 45, maxRotation: 45, padding: 2, labelOffset: 4, color: '#111', font: {size: 18.5}, callback: v => tmeLabels[v - 1]}},
      y: {type: 'linear', min: -4113, max: 6694, border: {color: '#000', width: 3}, grid: {display: false, drawTicks: false},
        afterBuildTicks: listTicks(tmeTicks),
        ticks: {autoSkip: false, padding: 0, color: '#111', font: {size: 15.8}, callback: v => String(v).replace('-', '−')}}
    }
  }
});
txt('TME score', 29, 750, {size: 18, rotate: -90});
txt('***', 160, 663, {size: 13});
txt('***', 283, 663, {size: 13});
txt('***', 406, 663, {size: 13});
txt('Risk', 219, 598, {size: 15.4, align: 'left'});
legendKey(250, 588, 20, 23, '#e41a1c', '#fff');
txt('low', 276, 598, {size: 15.4, align: 'left'});
legendKey(297, 588, 20, 23, '#377eb8', '#fff');
txt('high', 323, 598, {size: 15.4, align: 'left'});

// panel D box plot
const boxColors = ['#e41a1c', '#377eb8'];
const boxSets = [
  {type: 'scatter', data: tmbGroups.flatMap((g, i) => [{x: i + 1, y: 0}, {x: i + 1, y: tmbWhiskerHi[i]}, {x: NaN, y: NaN}]), showLine: true, spanGaps: false, borderColor: '#000', borderWidth: 3.4, pointRadius: 0, order: 5},
  {type: 'scatter', data: tmbLowOutliers.map(y => ({x: 1, y})).concat(tmbHighOutliers.map(y => ({x: 2, y}))), backgroundColor: '#000', pointRadius: 3.3, borderWidth: 0, order: 4},
  {type: 'bar', data: tmbGroups.map((g, i) => ({x: i + 1, y: [tmbQ1[i], tmbQ3[i]]})), backgroundColor: boxColors, borderColor: '#000', borderWidth: 3, borderSkipped: false, barThickness: 106, order: 3},
  {type: 'scatter', data: tmbGroups.flatMap((g, i) => [{x: i + 1 - .353, y: tmbMedian[i]}, {x: i + 1 + .353, y: tmbMedian[i]}, {x: NaN, y: NaN}]), showLine: true, spanGaps: false, borderColor: '#000', borderWidth: 6, pointRadius: 0, order: 2},
  {type: 'scatter', data: [{x: 1, y: 60}, {x: 1, y: 62.8}, {x: 2, y: 62.8}, {x: 2, y: 60}], showLine: true, borderColor: '#000', borderWidth: 1.8, pointRadius: 0, order: 1}
];
addChart({x: 607, y: 755, w: 330, h: 268}, {l: 50, t: 0, r: 4, b: 32}, {
  type: 'bar',
  data: {datasets: boxSets},
  options: {
    scales: {
      x: {type: 'linear', offset: false, min: .4, max: 2.6, border: {color: '#000', width: 3}, grid: {display: false, drawTicks: false, offset: false},
        afterBuildTicks: listTicks([1, 2]),
        ticks: {autoSkip: false, maxRotation: 0, padding: 2, labelOffset: 3, color: '#111', font: {size: 17}, callback: v => tmbGroups[v - 1]}},
      y: {type: 'linear', min: -3.07, max: 65.4, border: {color: '#000', width: 3}, grid: {display: false, drawTicks: false},
        afterBuildTicks: listTicks([0, 20, 40, 60]),
        ticks: {autoSkip: false, padding: 8, color: '#111', font: {size: 17}}}
    }
  }
});
txt('0.017', 775, 759, {size: 13.5, color: '#333'});
txt('Tumor Burden Mutation', 568, 858, {size: 18, rotate: -90});
txt('Risk', 712, 724, {size: 14.5, align: 'left'});
legendKey(743, 716, 17, 17, '#e41a1c', '#c00');
txt('low', 767, 724, {size: 14.5, align: 'left'});
legendKey(789, 716, 17, 17, '#377eb8', '#2a6a9e');
txt('high', 813, 724, {size: 14.5, align: 'left'});

// panel D scatter
scatterPanel({rect: {x: 1021, y: 734, w: 303, h: 298}, margin: {l: 30, t: 0, r: 8, b: 24}, xMin: .222, xMax: 4.177, yMin: -2.3, yMax: 62.4, radius: 3.2,
  xTicks: [.5, 1, 1.5, 2, 2.5, 3, 3.5, 4], xLabels: [1, 2, 3, 4], yTicks: [0, 10, 20, 30, 40, 50, 60], yLabels: [0, 20, 40, 60], yDigits: 0, xPad: 0, xOffset: 2, yPad: 0, tickSize: 17,
  series: [{points: clusterA, color: '#e41a1c'}, {points: clusterB, color: '#377eb8'}], fit: tmbFit, upper: tmbUpper, lower: tmbLower});
txt('Tumor Burden Mutation', 991, 840, {size: 18, rotate: -90});
txt('Risk score', 1187, 1052, {size: 17});
txt(', p=0.15', 1088, 755, {size: 14.5, align: 'left', italicP: true});
txt('geneCluster', 1341, 862, {size: 14.2, align: 'left'});
swatch(1349, 882, 6, '#e41a1c');
txt('A', 1363, 881, {size: 14.5, align: 'left'});
swatch(1349, 900, 6, '#377eb8');
txt('B', 1363, 899, {size: 14.5, align: 'left'});

// panel E
const runs = s => s.trim() ? s.trim().split(' ').map(r => { const a = r.split('-').map(Number); return [a[0], (a.length > 1 ? a[1] : a[0]) + 1]; }) : [];
const rowBars = list => genes.flatMap((g, i) => runs(list[i]).map(r => ({y: g, x: r})));

function oncoPanel(c) {
  const oncoSets = [
    {data: genes.map(g => ({y: g, x: [0, c.samples]})), backgroundColor: '#d9d9d9', order: 9},
    {data: rowBars(c.missense), backgroundColor: '#33a02c', order: 7},
    {data: rowBars(c.multi), backgroundColor: '#111', order: 5},
    {data: rowBars(c.nonsense), backgroundColor: '#e31a1c', order: 3}
  ];
  c.extra.forEach(e => oncoSets.push({data: rowBars(e.list), backgroundColor: e.color, order: 2}));
  const sampleEdges = Array.from({length: c.samples + 1}, (v, i) => i);
  addChart(c.rect, {l: c.rect.x, t: 0, r: 40, b: 0}, {
    type: 'bar',
    data: {labels: genes, datasets: oncoSets},
    options: {
      indexAxis: 'y', grouped: false,
      datasets: {bar: {barThickness: 16.7, inflateAmount: 0}},
      scales: {
        x: {type: 'linear', min: 0, max: c.samples, border: {display: false}, afterBuildTicks: listTicks(sampleEdges),
          grid: {color: 'rgba(255,255,255,.58)', lineWidth: .6, z: 1, drawTicks: false}, ticks: {display: false, autoSkip: false}},
        y: {border: {display: false}, grid: {display: false, drawTicks: false},
          ticks: {autoSkip: false, padding: 6, color: '#222', font: {size: 16, style: 'italic'}}},
        y1: {type: 'category', position: 'right', labels: c.pct, border: {display: false}, grid: {display: false, drawTicks: false},
          ticks: {autoSkip: false, padding: 2, color: '#222', font: {size: 16}}}
      }
    }
  });
}
function tmbPanel(c) {
  const xs = c.values.map((v, i) => i + .5);
  addChart(c.rect, {l: c.rect.x - 10, t: 8, r: 0, b: 8}, {
    type: 'bar',
    data: {datasets: [
      {data: zip(xs, c.values), backgroundColor: '#33a02c', stack: 's', order: 3},
      {data: zip(xs.slice(0, c.tips.length), c.tips), backgroundColor: '#e31a1c', stack: 's', order: 2},
      {type: 'scatter', data: [{x: c.xMin * .3, y: c.max}, {x: c.xMin, y: c.max}, {x: c.xMin, y: 0}, {x: c.xMin * .3, y: 0}], showLine: true, borderColor: '#000', borderWidth: 2, pointRadius: 0, clip: false, order: 1, stack: 'b'}
    ]},
    options: {
      barPercentage: 1, categoryPercentage: 1,
      datasets: {bar: {inflateAmount: 0}},
      scales: {
        x: {type: 'linear', offset: false, min: c.xMin, max: c.samples, display: false, stacked: true},
        y: {type: 'linear', min: 0, max: c.max, stacked: true, border: {display: false}, grid: {display: false, drawTicks: false}, afterBuildTicks: listTicks([0, c.max]),
          ticks: {autoSkip: false, padding: c.tickPad, color: '#222', font: {size: 12.5}, callback: v => String(v)}}
      }
    }
  });
}
function countBars(c) {
  const rows = genes.map((g, i) => i);
  addChart(c.rect, {l: 14, t: 30, r: 14, b: 0}, {
    type: 'bar',
    data: {datasets: [
      {data: zip(c.missense, rows), backgroundColor: '#33a02c', barThickness: 16.7},
      {data: zip(c.other, rows), backgroundColor: '#e31a1c', barThickness: 16.7},
      {data: zip(c.multi, rows), backgroundColor: '#000', barThickness: 16.7}
    ]},
    options: {
      indexAxis: 'y',
      scales: {
        x: {type: 'linear', position: 'top', min: 0, max: c.max, stacked: true, border: {color: '#000', width: 2}, afterBuildTicks: listTicks([0, c.max]),
          grid: {drawOnChartArea: false, tickColor: '#000', tickLength: 7, tickWidth: 2},
          ticks: {autoSkip: false, maxRotation: 0, padding: 7, color: '#222', font: {size: 12.5}, callback: v => String(v)}},
        y: {type: 'linear', offset: false, min: -.708, max: 19.5, reverse: true, stacked: true, display: false}
      }
    }
  });
}
function riskStrip(rect, color, samples) {
  addChart(rect, {l: 0, t: 0, r: 50, b: 0}, {
    type: 'bar',
    data: {labels: ['Risk'], datasets: [{data: [[0, samples]], backgroundColor: color, barPercentage: 1, categoryPercentage: 1}]},
    options: {indexAxis: 'y',
      scales: {x: {min: 0, max: samples, display: false},
        y: {display: false},
        y1: {type: 'category', position: 'right', labels: ['Risk'], border: {display: false}, grid: {display: false, drawTicks: false},
          ticks: {padding: 7, color: '#222', font: {size: 15}}}}}
  });
}

tmbPanel({rect: {x: 70, y: 1101, w: 446, h: 83}, values: leftTmb, tips: leftTmbTip, samples: 221, xMin: -4, max: 3966, tickPad: 16});
oncoPanel({rect: {x: 78, y: 1191.2, w: 438, h: 355.4}, samples: 221, missense: leftMissense, multi: leftMulti, nonsense: leftNonsense, pct: leftPct,
  extra: [{list: leftFrameShift, color: '#1f78b4'}, {list: leftInFrame, color: '#ffff99'}]});
countBars({rect: {x: 563, y: 1188, w: 125.4, h: 359}, max: 152, missense: leftMissenseBar, other: leftOtherBar, multi: leftMultiBar});
riskStrip({x: 78, y: 1552.7, w: 438, h: 30}, '#ff0000', 221);
txt('TMB', 40, 1143, {size: 11, rotate: -90, color: '#222'});
txt('Altered in 195 (88.24%) of 221 samples.', 170, 1109, {size: 19.4, weight: 'bold', align: 'left', color: '#111'});
txt('No. of samples', 625, 1178, {size: 11.2, color: '#222'});

tmbPanel({rect: {x: 792, y: 1099, w: 412, h: 82.7}, values: rightTmb, tips: rightTmbTip, samples: 229, xMin: -3.6, max: 13723, tickPad: 15});
oncoPanel({rect: {x: 798.4, y: 1188.8, w: 405.8, h: 354.6}, samples: 229, missense: rightMissense, multi: rightMulti, nonsense: rightNonsense, pct: rightPct,
  extra: [{list: rightNonstop, color: '#a6cee3'}]});
countBars({rect: {x: 1247, y: 1186, w: 115.4, h: 357.4}, max: 168, missense: rightMissenseBar, other: rightOtherBar, multi: rightMultiBar});
riskStrip({x: 798.4, y: 1549, w: 405.8, h: 31}, '#0000ff', 229);
txt('TMB', 763, 1141, {size: 11, rotate: -90, color: '#222'});
txt('Altered in 216 (94.32%) of 229 samples.', 884, 1113, {size: 18, weight: 'bold', align: 'left', color: '#111'});
txt('No. of samples', 1304.7, 1175.7, {size: 11.2, color: '#222'});

// panel E legends
[['Missense_Mutation', 21.7, 36, 1599, '#33a02c'], ['Frame_Shift_Del', 21.7, 36, 1616, '#1f78b4'], ['Nonsense_Mutation', 21.7, 36, 1633, '#e31a1c'], ['In_Frame_Del', 194.7, 209, 1599, '#ffff99'], ['Multi_Hit', 194.7, 209, 1616, '#000'],
 ['Missense_Mutation', 747, 760.5, 1597, '#33a02c'], ['Nonsense_Mutation', 747, 760.5, 1614, '#e31a1c'], ['Frame_Shift_Ins', 747, 760.5, 1630.3, '#6a3d9a'], ['Frame_Shift_Del', 747, 760.5, 1647, '#1f78b4'], ['Nonstop_Mutation', 906.6, 920, 1597, '#a6cee3'], ['In_Frame_Del', 906.6, 920, 1614, '#ffff99'], ['Multi_Hit', 906.6, 920, 1630.3, '#000']
].forEach(r => { swatch(r[1], r[3], 7, r[4]); txt(r[0], r[2], r[3], {size: 16, align: 'left', color: '#222'}); });
txt('Risk', 386, 1599, {size: 15, align: 'left'});
swatch(400, 1620.7, 7, '#f00'); txt('high', 414, 1621, {size: 15, align: 'left'});
swatch(400, 1637.7, 7, '#00f'); txt('low', 414, 1638, {size: 15, align: 'left'});
txt('Risk', 1084, 1596, {size: 15, align: 'left'});
swatch(1096, 1617.7, 7, '#f00'); txt('high', 1109.5, 1618, {size: 15, align: 'left'});
swatch(1096, 1635, 7, '#00f'); txt('low', 1109.5, 1635, {size: 15, align: 'left'});

// panel letters
[['A', 17, 14], ['B', 547, 14], ['C', 18, 610], ['D', 567, 723], ['E', 17, 1076]].forEach(a => txt(a[0], a[1], a[2], {size: 26, weight: 'bold', color: '#000'}));
</script>
</body>
</html>
